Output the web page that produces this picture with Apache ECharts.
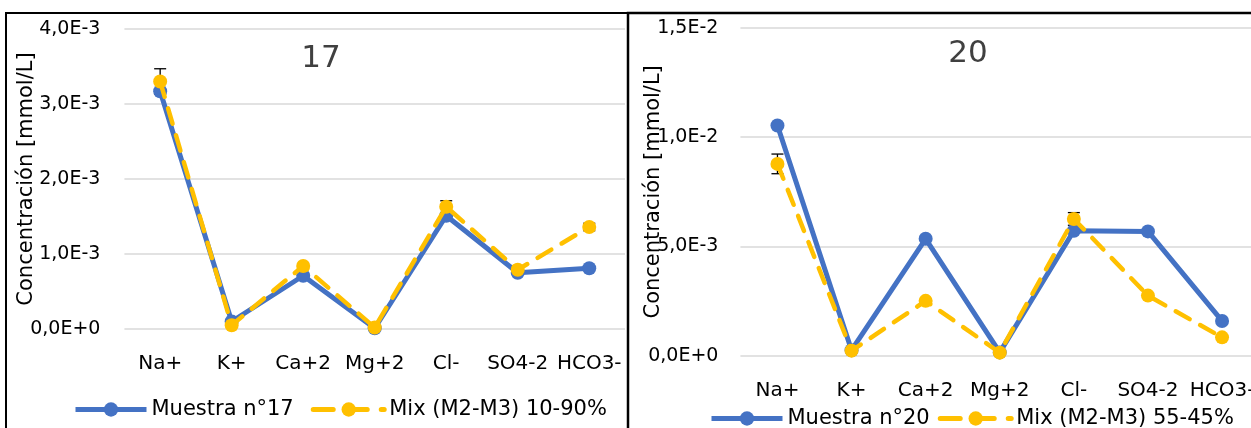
<!DOCTYPE html>
<html>
<head>
<meta charset="utf-8">
<script src="https://cdn.jsdelivr.net/npm/echarts@6/dist/echarts.min.js"></script>
<style>
  html, body { margin: 0; padding: 0; background: #fff; overflow: hidden; }
  #chart { width: 1275px; height: 428px; }
</style>
</head>
<body>
<div id="chart"></div>
<script>
// Ion concentrations (mmol/L) for samples 17 and 20 and their M2-M3 mixes
const categories = ['Na+', 'K+', 'Ca+2', 'Mg+2', 'Cl-', 'SO4-2', 'HCO3-'];

const muestra17 = [3.17e-3, 0.10e-3, 0.71e-3, 0.01e-3, 1.51e-3, 0.75e-3, 0.81e-3];
const mix1090 = [3.30e-3, 0.05e-3, 0.84e-3, 0.02e-3, 1.63e-3, 0.79e-3, 1.36e-3];
const mix1090Err = [0.17e-3, 0, 0, 0, 0.08e-3, 0, 0.05e-3];

const muestra20 = [10.54e-3, 0.25e-3, 5.35e-3, 0.15e-3, 5.72e-3, 5.69e-3, 1.59e-3];
const mix5545 = [8.78e-3, 0.23e-3, 2.51e-3, 0.14e-3, 6.26e-3, 2.75e-3, 0.84e-3];
const mix5545Err = [0.45e-3, 0, 0, 0, 0.29e-3, 0, 0];

const ticks17 = ['0,0E+0', '1,0E-3', '2,0E-3', '3,0E-3', '4,0E-3'];
const ticks20 = ['0,0E+0', '5,0E-3', '1,0E-2', '1,5E-2'];

const FONT = 'DejaVu Sans';
const BLUE = '#4472C4';
const GOLD = '#FFC000';
const DASH = [16, 12];

function errorBarItem(params, api) {
  const e = api.value(2);
  if (!e) return null;
  const x = api.value(0), y = api.value(1);
  const hi = api.coord([x, y + e]);
  const lo = api.coord([x, y - e]);
  const half = 6;
  const st = { stroke: '#000', lineWidth: 1.3 };
  return {
    type: 'group',
    children: [
      { type: 'line', shape: { x1: hi[0], y1: hi[1], x2: lo[0], y2: lo[1] }, style: st },
      { type: 'line', shape: { x1: hi[0] - half, y1: hi[1], x2: hi[0] + half, y2: hi[1] }, style: st },
      { type: 'line', shape: { x1: lo[0] - half, y1: lo[1], x2: lo[0] + half, y2: lo[1] }, style: st }
    ]
  };
}

function errData(values, errs) {
  return values.map((v, i) => [i, v, errs[i]]);
}

function xAxisFor(gridIndex) {
  return {
    type: 'category',
    gridIndex: gridIndex,
    data: categories,
    boundaryGap: true,
    axisLine: { show: false },
    axisTick: { show: false },
    axisLabel: { color: '#000', fontFamily: FONT, fontSize: 20, margin: 25, interval: 0 }
  };
}

function yAxisFor(gridIndex, max, interval, labels, nameGap, labelMargin) {
  return {
    type: 'value',
    gridIndex: gridIndex,
    min: 0,
    max: max,
    interval: interval,
    name: 'Concentración [mmol/L]',
    nameLocation: 'middle',
    nameGap: nameGap,
    nameMoveOverlap: false,
    nameTextStyle: { color: '#000', fontFamily: FONT, fontSize: 21 },
    axisLine: { show: false },
    axisTick: { show: false },
    splitLine: { lineStyle: { color: '#D9D9D9', width: 1.5 } },
    axisLabel: {
      color: '#000', fontFamily: FONT, fontSize: 19, margin: labelMargin,
      formatter: v => labels[Math.round(v / interval)]
    }
  };
}

function lineSeries(name, data, idx, color, dashed) {
  return {
    name: name,
    type: 'line',
    xAxisIndex: idx,
    yAxisIndex: idx,
    data: data,
    symbol: 'circle',
    symbolSize: 14,
    z: dashed ? 4 : 3,
    itemStyle: { color: color },
    lineStyle: dashed
      ? { color: color, width: 4.5, type: DASH, cap: 'round' }
      : { color: color, width: 5 },
    emphasis: { disabled: true },
    animation: false
  };
}

function legendItems(solidName, dashedName) {
  return [
    { name: solidName, lineStyle: { width: 5, color: BLUE, type: 'solid' } },
    { name: dashedName, lineStyle: { width: 5, color: GOLD, type: [20, 14] } }
  ];
}

const chart = echarts.init(document.getElementById('chart'), null, { renderer: 'canvas' });

chart.setOption({
  backgroundColor: '#fff',
  animation: false,
  title: [
    { text: '17', left: 316, top: 38, textAlign: 'center',
      textStyle: { fontFamily: FONT, fontSize: 31, fontWeight: 'normal', color: '#404040' } },
    { text: '20', left: 963, top: 33, textAlign: 'center',
      textStyle: { fontFamily: FONT, fontSize: 31, fontWeight: 'normal', color: '#404040' } }
  ],
  legend: [
    {
      data: legendItems('Muestra n°17', 'Mix (M2-M3) 10-90%'),
      left: 73, top: 399, padding: 0,
      itemWidth: 71, itemHeight: 18, itemGap: 17,
      textStyle: { color: '#000', fontFamily: FONT, fontSize: 21 },
      selectedMode: false
    },
    {
      data: legendItems('Muestra n°20', 'Mix (M2-M3) 55-45%'),
      left: 709, top: 408, padding: 0,
      itemWidth: 71, itemHeight: 18, itemGap: 8,
      textStyle: { color: '#000', fontFamily: FONT, fontSize: 21 },
      selectedMode: false
    }
  ],
  grid: [
    { left: 124.4, top: 29, width: 500.6, height: 300, containLabel: false },
    { left: 740.4, top: 28, width: 518.7, height: 327.7, containLabel: false }
  ],
  xAxis: [xAxisFor(0), xAxisFor(1)],
  yAxis: [
    yAxisFor(0, 4e-3, 1e-3, ticks17, 87, 24),
    yAxisFor(1, 1.5e-2, 5e-3, ticks20, 76, 22)
  ],
  series: [
    {
      type: 'custom', xAxisIndex: 0, yAxisIndex: 0, z: 2,
      renderItem: errorBarItem, data: errData(mix1090, mix1090Err), silent: true
    },
    lineSeries('Muestra n°17', muestra17, 0, BLUE, false),
    lineSeries('Mix (M2-M3) 10-90%', mix1090, 0, GOLD, true),
    {
      type: 'custom', xAxisIndex: 1, yAxisIndex: 1, z: 2,
      renderItem: errorBarItem, data: errData(mix5545, mix5545Err), silent: true
    },
    lineSeries('Muestra n°20', muestra20, 1, BLUE, false),
    lineSeries('Mix (M2-M3) 55-45%', mix5545, 1, GOLD, true)
  ],
  graphic: [
    { type: 'rect', shape: { x: 6, y: 13, width: 622, height: 440 },
      style: { fill: null, stroke: '#000', lineWidth: 2 }, silent: true, z: 100 },
    { type: 'rect', shape: { x: 628, y: 13, width: 640, height: 440 },
      style: { fill: null, stroke: '#000', lineWidth: 2.5 }, silent: true, z: 100 }
  ]
});
</script>
</body>
</html>
